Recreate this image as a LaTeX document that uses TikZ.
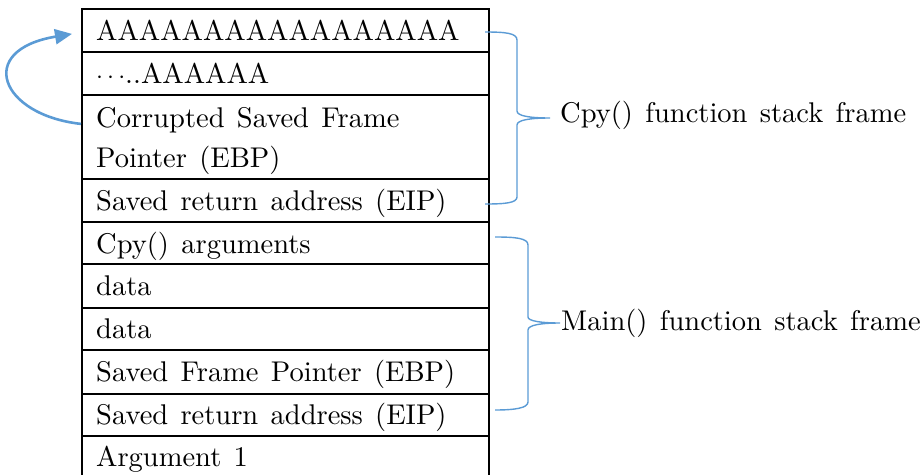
\documentclass[tikz,border=0pt]{standalone}
\usepackage{fontspec}
\newfontfamily\bigfont{lmroman10-regular.otf}[WordSpace=1.3]
\usetikzlibrary{arrows.meta}
\definecolor{bluecol}{HTML}{5B9BD5}
\begin{document}
\begin{tikzpicture}[x=1pt,y=-1pt,
  cell/.style={draw=black,line width=1.8pt,rectangle,minimum width=407pt,inner sep=0pt,anchor=north west},
  txt/.style={anchor=base west,inner sep=0pt,font=\bigfont\fontsize{28.5}{40}\selectfont},
  lbl/.style={anchor=base west,inner sep=0pt,font=\bigfont\fontsize{28.5}{40}\selectfont},
  brace/.style={draw=bluecol,line width=1.4pt},
  loopar/.style={draw=bluecol,line width=2.6pt,-{Triangle[length=17pt,width=15pt]}}]
\clip (0,0) rectangle (921,474);
% stack cells
\node[cell,minimum height=43pt] (r1) at (81,8) {};
\node[cell,minimum height=43pt] (r2) at (81,51) {};
\node[cell,minimum height=84pt] (r3) at (81,94) {};
\node[cell,minimum height=43pt] (r4) at (81,178) {};
\node[cell,minimum height=42pt] (r5) at (81,221) {};
\node[cell,minimum height=44pt] (r6) at (81,263) {};
\node[cell,minimum height=42pt] (r7) at (81,307) {};
\node[cell,minimum height=44pt] (r8) at (81,349) {};
\node[cell,minimum height=42pt] (r9) at (81,393) {};
\node[cell,minimum height=60pt] (r10) at (81,435) {};
% texts
\node[txt] (t1) at (96,40) {AAAAAAAAAAAAAAAAA};
\node[txt] (t2) at (96,83) {$\cdots$..AAAAAA};
\node[txt] (t3a) at (96,127) {Corrupted Saved Frame};
\node[txt] (t3b) at (96,167) {Pointer (EBP)};
\node[txt] (t4) at (96,210) {Saved return address (EIP)};
\node[txt] (t5) at (96,253) {Cpy() arguments};
\node[txt] (t6) at (96,295) {data};
\node[txt] (t7) at (96,338) {data};
\node[txt] (t8) at (96,381) {Saved Frame Pointer (EBP)};
\node[txt] (t9) at (96,424) {Saved return address (EIP)};
\node[txt] (t10) at (96,466) {Argument 1};
% loop arrow
\draw[loopar] ([yshift=13pt]r3.west) .. controls (0,115) and (-25,50) .. ([xshift=-9pt,yshift=-3.5pt]r1.west);
% braces
\draw[brace] (485,32) .. controls (505,32) and (517,33) .. (517,40) -- (517,111)
  .. controls (517,116) and (530,118) .. (550,118)
  .. controls (530,118) and (517,120) .. (517,125) -- (517,197)
  .. controls (517,203) and (505,204) .. (485,204);
\draw[brace] (495,237) .. controls (515,237) and (528,238) .. (528,245) -- (528,317)
  .. controls (528,321) and (541,323) .. (560,323)
  .. controls (541,323) and (528,325) .. (528,330) -- (528,402)
  .. controls (528,408) and (515,410) .. (495,410);
% labels
\node[lbl] (lcpy) at (560,122) {Cpy() function stack frame};
\node[lbl] (lmain) at (561,330) {Main() function stack frame};
\end{tikzpicture}
\end{document}
